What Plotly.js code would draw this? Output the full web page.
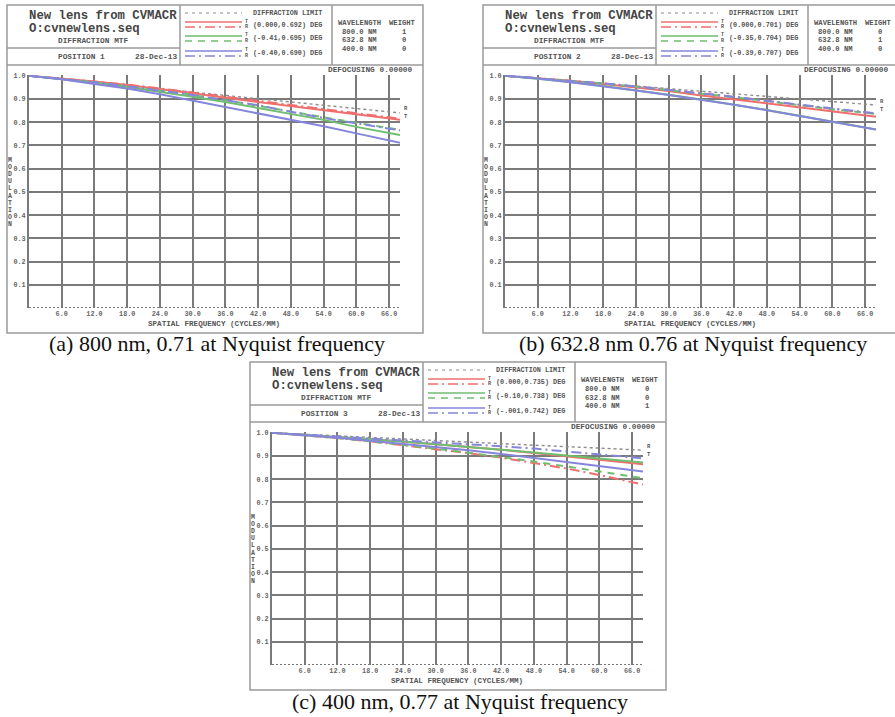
<!DOCTYPE html>
<html>
<head>
<meta charset="utf-8">
<script src="https://cdn.plot.ly/plotly-3.0.1.min.js"></script>
<style>html,body{margin:0;padding:0;background:#fff;}#chart{width:895px;height:717px;}</style>
</head>
<body>
<div id="chart"></div>
<script>
// ---------- DATA ----------
const freq = [0, 6, 12, 18, 24, 30, 36, 42, 48, 54, 60, 66, 68];
const xTicks = [6, 12, 18, 24, 30, 36, 42, 48, 54, 60, 66];
const yTicks = [0.1, 0.2, 0.3, 0.4, 0.5, 0.6, 0.7, 0.8, 0.9, 1.0];
const wavelengths = ["800.0 NM", "632.8 NM", "400.0 NM"];

// Panel (a) 800 nm
const diffA   = [1.000, 0.986, 0.972, 0.958, 0.944, 0.930, 0.915, 0.901, 0.887, 0.873, 0.859, 0.845, 0.840];
const redTA   = [1.000, 0.988, 0.975, 0.960, 0.943, 0.925, 0.905, 0.887, 0.869, 0.852, 0.835, 0.817, 0.811];
const redRA   = [1.000, 0.988, 0.976, 0.962, 0.946, 0.928, 0.909, 0.891, 0.873, 0.856, 0.838, 0.821, 0.815];
const greenTA = [1.000, 0.986, 0.970, 0.952, 0.932, 0.910, 0.887, 0.862, 0.838, 0.810, 0.780, 0.752, 0.745];
const greenRA = [1.000, 0.987, 0.972, 0.955, 0.937, 0.917, 0.895, 0.872, 0.846, 0.821, 0.797, 0.774, 0.767];
const blueTA  = [1.000, 0.985, 0.965, 0.945, 0.920, 0.893, 0.866, 0.840, 0.812, 0.783, 0.752, 0.720, 0.711];
const blueRA  = [1.000, 0.987, 0.972, 0.955, 0.937, 0.917, 0.895, 0.873, 0.845, 0.818, 0.795, 0.772, 0.765];
const fieldsA = ["(0.000,0.692) DEG", "(-0.41,0.695) DEG", "(-0.40,0.690) DEG"];
const weightsA = ["1", "0", "0"];

// Panel (b) 632.8 nm
const diffB   = [1.000, 0.989, 0.978, 0.967, 0.956, 0.945, 0.933, 0.922, 0.911, 0.900, 0.889, 0.878, 0.874];
const redTB   = [1.000, 0.990, 0.978, 0.965, 0.951, 0.934, 0.915, 0.898, 0.880, 0.862, 0.845, 0.829, 0.824];
const redRB   = [1.000, 0.990, 0.979, 0.967, 0.954, 0.940, 0.925, 0.909, 0.892, 0.874, 0.857, 0.842, 0.837];
const greenTB = [1.000, 0.988, 0.973, 0.956, 0.938, 0.918, 0.898, 0.876, 0.853, 0.828, 0.802, 0.777, 0.769];
const greenRB = [1.000, 0.990, 0.979, 0.967, 0.953, 0.939, 0.924, 0.908, 0.891, 0.873, 0.856, 0.841, 0.836];
const blueTB  = [1.000, 0.988, 0.972, 0.955, 0.937, 0.917, 0.897, 0.875, 0.852, 0.827, 0.801, 0.776, 0.768];
const blueRB  = [1.000, 0.990, 0.979, 0.967, 0.954, 0.940, 0.925, 0.909, 0.892, 0.875, 0.858, 0.843, 0.838];
const fieldsB = ["(0.000,0.701) DEG", "(-0.35,0.704) DEG", "(-0.39,0.707) DEG"];
const weightsB = ["0", "1", "0"];

// Panel (c) 400 nm
const diffC   = [1.000, 0.993, 0.987, 0.980, 0.974, 0.967, 0.960, 0.954, 0.947, 0.940, 0.934, 0.927, 0.925];
const redTC   = [1.000, 0.991, 0.982, 0.972, 0.962, 0.951, 0.940, 0.927, 0.913, 0.898, 0.884, 0.869, 0.864];
const redRC   = [1.000, 0.990, 0.977, 0.963, 0.947, 0.930, 0.912, 0.893, 0.871, 0.846, 0.818, 0.786, 0.777];
const greenTC = [1.000, 0.991, 0.982, 0.972, 0.962, 0.951, 0.940, 0.928, 0.915, 0.902, 0.889, 0.877, 0.872];
const greenRC = [1.000, 0.990, 0.977, 0.963, 0.948, 0.932, 0.914, 0.896, 0.876, 0.855, 0.833, 0.811, 0.804];
const blueTC  = [1.000, 0.990, 0.978, 0.966, 0.953, 0.940, 0.925, 0.909, 0.892, 0.874, 0.856, 0.839, 0.833];
const blueRC  = [1.000, 0.992, 0.984, 0.976, 0.968, 0.960, 0.951, 0.942, 0.932, 0.920, 0.907, 0.895, 0.890];
const fieldsC = ["(0.000,0.735) DEG", "(-0.10,0.738) DEG", "(-.001,0.742) DEG"];
const weightsC = ["0", "0", "1"];

const positions = ["POSITION 1", "POSITION 2", "POSITION 3"];
const captions = ["(a) 800 nm, 0.71 at Nyquist frequency", "(b) 632.8 nm 0.76 at Nyquist frequency", "(c) 400 nm, 0.77 at Nyquist frequency"];
const yTitle = "MODULATION";

// ---------- DRAWING ----------
const W = 895, H = 717;
const px = v => v / W;
const py = v => 1 - v / H;
const MONO = "Liberation Mono, DejaVu Sans Mono, monospace";
const FRAME = "#9a9a9a", GRID = "#7a7a7a", TXT = "#555";
const colRed = "#ef6e6e", colGreen = "#6fbd6f", colBlue = "#8585dc", colDiff = "#8c8c8c";

const panels = [
  {ox: 0,   oy: 0,   s: "",  d: [diffA, redTA, redRA, greenTA, greenRA, blueTA, blueRA], fields: fieldsA, weights: weightsA},
  {ox: 476, oy: 0,   s: "2", d: [diffB, redTB, redRB, greenTB, greenRB, blueTB, blueRB], fields: fieldsB, weights: weightsB},
  {ox: 243, oy: 357, s: "3", d: [diffC, redTC, redRC, greenTC, greenRC, blueTC, blueRC], fields: fieldsC, weights: weightsC}
];

const traces = [], shapes = [], annotations = [], layout = {
  width: W, height: H, margin: {l: 0, r: 0, t: 0, b: 0},
  paper_bgcolor: "#fff", plot_bgcolor: "rgba(0,0,0,0)", showlegend: false
};

function seg(x0, y0, x1, y1, color, width, dash) {
  shapes.push({type: "line", xref: "paper", yref: "paper", x0: px(x0), y0: py(y0), x1: px(x1), y1: py(y1),
    line: {color: color, width: width, dash: dash || "solid"}});
}
function txt(x, y, t, size, opts) {
  opts = opts || {};
  annotations.push({xref: "paper", yref: "paper", x: px(x), y: py(y), text: t, showarrow: false,
    xanchor: opts.xa || "left", yanchor: "middle", borderpad: 0,
    font: {family: opts.family || MONO, size: size, color: opts.color || TXT}});
}

const styles = [
  {c: colDiff, dash: "3px,3px", w: 1.4},
  {c: colRed, dash: "solid", w: 2},
  {c: colRed, dash: "10px,4px,2px,4px", w: 2},
  {c: colGreen, dash: "solid", w: 2},
  {c: colGreen, dash: "7px,6px", w: 2},
  {c: colBlue, dash: "solid", w: 2},
  {c: colBlue, dash: "10px,4px,2px,4px", w: 2}
];

panels.forEach((p, i) => {
  const ox = p.ox, oy = p.oy;
  // frame
  shapes.push({type: "rect", xref: "paper", yref: "paper", x0: px(ox + 7), x1: px(ox + 423), y0: py(oy + 5), y1: py(oy + 333),
    line: {color: FRAME, width: 1.5}});
  seg(ox + 7, oy + 65, ox + 423, oy + 65, FRAME, 1.5);
  seg(ox + 180, oy + 5, ox + 180, oy + 65, FRAME, 1.5);
  seg(ox + 332, oy + 5, ox + 332, oy + 65, FRAME, 1.5);
  seg(ox + 7, oy + 48, ox + 180, oy + 48, FRAME, 1.5);

  // title block
  txt(ox + 28, oy + 16, "<b>New lens from CVMACR</b>", 12.3, {color: "#444"});
  txt(ox + 28, oy + 28.5, "<b>O:cvnewlens.seq</b>", 12.3, {color: "#444"});
  txt(ox + 57, oy + 40.8, "<b>DIFFRACTION MTF</b>", 7.8);
  txt(ox + 57, oy + 57, "<b>" + positions[i] + "</b>", 7.8);
  txt(ox + 178, oy + 57, "<b>28-Dec-13</b>", 7.8, {xa: "right"});

  // legend block
  seg(ox + 185, oy + 13, ox + 242, oy + 13, colDiff, 1.2, "3px,4px");
  txt(ox + 252, oy + 13, "<b>DIFFRACTION LIMIT</b>", 6.8);
  const lc = [colRed, colGreen, colBlue], rdash = ["10px,4px,2px,4px", "7px,6px", "10px,4px,2px,4px"];
  const ly = [22, 36, 51];
  for (let k = 0; k < 3; k++) {
    seg(ox + 185, oy + ly[k], ox + 242, oy + ly[k], lc[k], 1.6);
    seg(ox + 185, oy + ly[k] + 5, ox + 242, oy + ly[k] + 5, lc[k], 1.6, rdash[k]);
    txt(ox + 244, oy + ly[k] - 0.5, "<b>T</b>", 5);
    txt(ox + 244, oy + ly[k] + 5, "<b>R</b>", 5);
    txt(ox + 252, oy + ly[k] + 2.5, "<b>" + p.fields[k] + "</b>", 6.8);
  }

  // wavelength block
  txt(ox + 337, oy + 23, "<b>WAVELENGTH</b>", 7.2);
  txt(ox + 388, oy + 23, "<b>WEIGHT</b>", 7.2);
  const wy = [32, 40.5, 49];
  for (let k = 0; k < 3; k++) {
    txt(ox + 341, oy + wy[k], "<b>" + wavelengths[k] + "</b>", 7.2);
    txt(ox + 404, oy + wy[k], "<b>" + p.weights[k] + "</b>", 7.2, {xa: "center"});
  }

  // defocusing
  txt(ox + 414, oy + 69.5, "<b>DEFOCUSING 0.00000</b>", 7.8, {xa: "right"});

  // axes
  const xk = "xaxis" + p.s, yk = "yaxis" + p.s, xr = "x" + p.s, yr = "y" + p.s;
  layout[xk] = {
    domain: [px(ox + 29), px(ox + 400)], anchor: yr, range: [0, 68],
    tickmode: "array", tickvals: xTicks, ticktext: xTicks.map(v => "<b>" + v.toFixed(1) + "</b>"),
    showgrid: true, gridcolor: GRID, gridwidth: 2, zeroline: false, showline: false, ticks: "",
    tickfont: {family: MONO, size: 6.8, color: "#666"}, fixedrange: true
  };
  layout[yk] = {
    domain: [py(oy + 308), py(oy + 75.3)], anchor: xr, range: [0, 1.002],
    tickmode: "array", tickvals: yTicks, ticktext: yTicks.map(v => "<b>" + v.toFixed(1) + "</b>"),
    showgrid: true, gridcolor: GRID, gridwidth: 2, zeroline: false,
    showline: true, linecolor: GRID, linewidth: 2, ticks: "",
    tickfont: {family: MONO, size: 6.8, color: "#666"}, fixedrange: true
  };
  // dotted baseline
  shapes.push({type: "line", xref: xr, yref: yr, x0: 0, x1: 68, y0: 0, y1: 0,
    line: {color: "#777", width: 2.2, dash: "2px,2px"}});

  // axis titles
  txt(ox + 214, oy + 324, "<b>SPATIAL FREQUENCY (CYCLES/MM)</b>", 7.6, {xa: "center"});
  yTitle.split("").forEach((ch, k) => {
    txt(ox + 10, oy + 160 + k * 7.2, "<b>" + ch + "</b>", 6.5, {xa: "center"});
  });

  // curves
  p.d.forEach((arr, j) => {
    traces.push({x: freq, y: arr, xaxis: xr, yaxis: yr, type: "scatter", mode: "lines",
      line: {color: styles[j].c, width: styles[j].w, dash: styles[j].dash}, hoverinfo: "skip"});
  });
  // R / T end labels on diffraction curve
  const dEnd = p.d[0][p.d[0].length - 1];
  annotations.push({xref: xr, yref: yr, x: 68, y: dEnd, text: "<b>R</b>", showarrow: false, xanchor: "left",
    yanchor: "middle", xshift: 2, yshift: 4, font: {family: MONO, size: 5.5, color: TXT}});
  annotations.push({xref: xr, yref: yr, x: 68, y: dEnd, text: "<b>T</b>", showarrow: false, xanchor: "left",
    yanchor: "middle", xshift: 2, yshift: -4, font: {family: MONO, size: 5.5, color: TXT}});

  // caption
  txt(ox + 217, oy + 344, captions[i], 22, {xa: "center", family: "Liberation Serif, Times New Roman, serif", color: "#111"});
});

layout.shapes = shapes;
layout.annotations = annotations;
Plotly.newPlot("chart", traces, layout, {displayModeBar: false, staticPlot: true});
</script>
</body>
</html>
